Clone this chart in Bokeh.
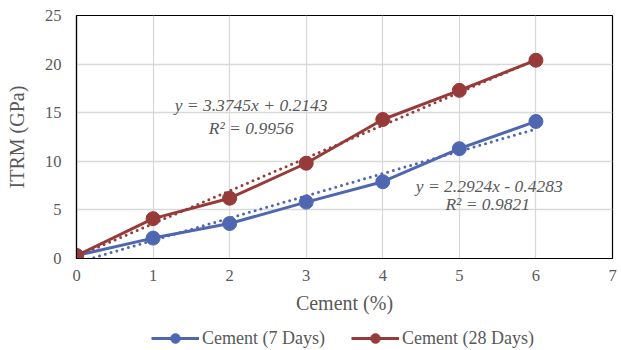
from bokeh.plotting import figure
from bokeh.models import Legend, LegendItem, Label, FixedTicker, Range1d
from bokeh.layouts import column
from bokeh.embed import file_html
from bokeh.resources import INLINE

cement = [0, 1, 2, 3, 4, 5, 6]
itrm_7 = [0.3, 2.1, 3.6, 5.8, 7.9, 11.3, 14.1]
itrm_28 = [0.3, 4.1, 6.2, 9.8, 14.3, 17.3, 20.4]
fit_7 = (2.2924, -0.4283, 0.9821)
fit_28 = (3.3745, 0.2143, 0.9956)
x_ticks = [0, 1, 2, 3, 4, 5, 6, 7]
y_ticks = [0, 5, 10, 15, 20, 25]
series_names = ["Cement (7 Days)", "Cement (28 Days)"]

BLUE = "#4e67b0"
RED = "#973b3a"
GREY = "#595959"
FONT = "Liberation Serif"

p = figure(width=621, height=322, output_backend="svg", toolbar_location=None,
           x_range=Range1d(0, 7), y_range=Range1d(0, 25),
           min_border_left=76, min_border_right=9, min_border_top=15, min_border_bottom=64)

p.outline_line_color = "black"
p.outline_line_width = 1.2
p.background_fill_color = "white"
p.border_fill_color = "white"

for ax in (p.xaxis[0], p.yaxis[0]):
    ax.major_tick_line_color = None
    ax.minor_tick_line_color = None
    ax.axis_line_color = "black"
    ax.axis_line_width = 1.2
    ax.major_label_text_font = FONT
    ax.major_label_text_font_size = "16.5px"
    ax.major_label_text_color = GREY
    ax.axis_label_text_font = FONT
    ax.axis_label_text_font_size = "20px"
    ax.axis_label_text_color = GREY
    ax.axis_label_text_font_style = "normal"

p.xaxis.ticker = FixedTicker(ticks=x_ticks)
p.yaxis.ticker = FixedTicker(ticks=y_ticks)
p.xaxis.axis_label = "Cement (%)"
p.yaxis.axis_label = "ITRM (GPa)"
p.xaxis.major_label_standoff = 5
p.yaxis.major_label_standoff = 9
p.xaxis.axis_label_standoff = 8
p.yaxis.axis_label_standoff = 14

p.xgrid.ticker = FixedTicker(ticks=x_ticks)
p.ygrid.ticker = FixedTicker(ticks=y_ticks)
p.grid.grid_line_color = "#d9d9d9"
p.grid.grid_line_width = 1.3

# linear trend lines (from the fitted coefficients shown on the chart)
xs_fit = [cement[0], cement[-1]]
p.line(xs_fit, [fit_28[0] * x + fit_28[1] for x in xs_fit], line_color=RED, line_width=3,
       line_dash="0 6", line_cap="round")
p.line(xs_fit, [fit_7[0] * x + fit_7[1] for x in xs_fit], line_color=BLUE, line_width=3,
       line_dash="0 6", line_cap="round")

p.line(cement, itrm_7, line_color=BLUE, line_width=3)
p.scatter(cement, itrm_7, size=14, fill_color=BLUE, line_color=BLUE)
p.line(cement, itrm_28, line_color=RED, line_width=3)
p.scatter(cement, itrm_28, size=14, fill_color=RED, line_color=RED)

def add_label(x, y, txt):
    p.add_layout(Label(x=x, y=y, text=txt, text_font=FONT, text_font_size="17.5px",
                       text_font_style="italic", text_color=GREY, text_align="center",
                       text_baseline="middle"))

add_label(2.28, 15.75, "y = %.4fx + %.4f" % (fit_28[0], fit_28[1]))
add_label(2.28, 13.45, "R² = %.4f" % fit_28[2])
add_label(5.39, 7.5, "y = %.4fx - %.4f" % (fit_7[0], -fit_7[1]))
add_label(5.37, 5.65, "R² = %.4f" % fit_7[2])

# legend row underneath (its key renderers hold the series but lie outside this strip's ranges)
lg = figure(width=621, height=28, output_backend="svg", toolbar_location=None,
            x_range=Range1d(-20, -19), y_range=Range1d(-20, -19), min_border=0)
lg.axis.visible = False
lg.grid.visible = False
lg.outline_line_color = None
lg.background_fill_color = "white"
lg.border_fill_color = "white"
r7l = lg.line(cement, itrm_7, line_color=BLUE, line_width=3)
r7c = lg.scatter(cement, itrm_7, size=14, fill_color=BLUE, line_color=BLUE)
r28l = lg.line(cement, itrm_28, line_color=RED, line_width=3)
r28c = lg.scatter(cement, itrm_28, size=14, fill_color=RED, line_color=RED)
legend = Legend(items=[LegendItem(label=series_names[0], renderers=[r7l, r7c]),
                       LegendItem(label=series_names[1], renderers=[r28l, r28c])],
                orientation="horizontal", location=(75, 0),
                label_text_font=FONT, label_text_font_size="18px", label_text_color=GREY,
                glyph_width=48, glyph_height=24, spacing=26, label_standoff=3,
                border_line_color=None, background_fill_alpha=0, margin=0, padding=2)
lg.add_layout(legend, "center")

layout = column(p, lg, spacing=0)
open("out.html", "w").write(file_html(layout, INLINE))
